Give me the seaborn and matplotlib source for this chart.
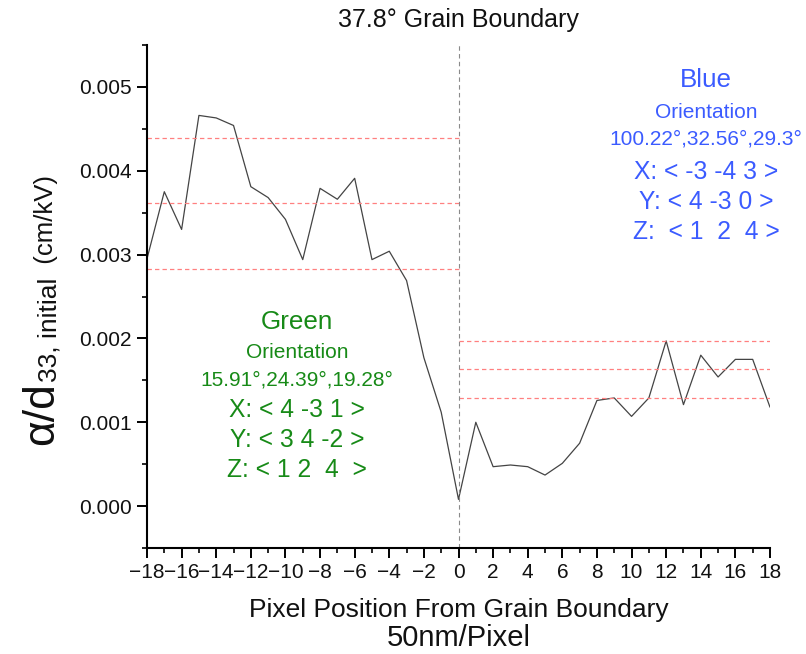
import matplotlib
matplotlib.use("Agg")
import matplotlib.pyplot as plt
from matplotlib.ticker import MultipleLocator, FormatStrFormatter
import pandas as pd
import seaborn as sns

# Piezoresponse profile across the grain boundary (one value per 50 nm pixel)
pixel_position = [-18, -17, -16, -15, -14, -13, -12, -11, -10, -9, -8, -7, -6,
                  -5, -4, -3, -2, -1, 0, 1, 2, 3, 4, 5, 6, 7, 8, 9, 10, 11,
                  12, 13, 14, 15, 16, 17, 18]
response = [0.00295, 0.00375, 0.00330, 0.00466, 0.00463, 0.00454, 0.00381,
            0.00368, 0.00342, 0.00294, 0.00379, 0.00366, 0.00391, 0.00294,
            0.00304, 0.00269, 0.00177, 0.00112, 0.00008, 0.00100, 0.00047,
            0.00049, 0.00047, 0.00037, 0.00051, 0.00075, 0.00126, 0.00129,
            0.00107, 0.00129, 0.00197, 0.00121, 0.00180, 0.00154, 0.00175,
            0.00175, 0.00118]

# Mean and +/- one standard deviation levels in each grain
green_levels = [0.00283, 0.00361, 0.00439]
green_span = [-18, 0]
blue_levels = [0.00129, 0.00163, 0.00197]
blue_span = [0, 18]

x_ticks = [-18, -16, -14, -12, -10, -8, -6, -4, -2, 0, 2, 4, 6, 8, 10, 12, 14, 16, 18]
y_ticks = [0.000, 0.001, 0.002, 0.003, 0.004, 0.005]

green_lines = ["Green", "Orientation", "15.91°,24.39°,19.28°",
               "X: < 4 -3 1 >", "Y: < 3 4 -2 >", "Z: < 1 2  4  >"]
blue_lines = ["Blue", "Orientation", "100.22°,32.56°,29.3°",
              "X: < -3 -4 3 >", "Y: < 4 -3 0 >", "Z:  < 1  2  4 >"]

sns.set_theme(style="ticks")
plt.rcParams["font.family"] = ["Liberation Sans", "DejaVu Sans"]
plt.rcParams["axes.unicode_minus"] = True

W, H = 806, 654
fig = plt.figure(figsize=(W / 100, H / 100), dpi=100)
ax = fig.add_axes([147 / W, 1 - 548 / H, 623 / W, 503 / H])

df = pd.DataFrame({"position": pixel_position, "response": response})
sns.lineplot(data=df, x="position", y="response", ax=ax,
             color="#444444", linewidth=0.9)

dash = (0, (3.5, 2.5))
ax.hlines(green_levels, green_span[0], green_span[1], colors="#ff8080",
          linestyles=dash, linewidth=0.9)
ax.hlines(blue_levels, blue_span[0], blue_span[1], colors="#ff8080",
          linestyles=dash, linewidth=0.9)
ax.axvline(0, color="#8a8a8a", linewidth=0.8, linestyle=(0, (4, 3)))

ax.set_xlim(-18, 18)
ax.set_ylim(-0.0005, 0.0055)
ax.set_xticks(x_ticks)
ax.set_yticks(y_ticks)
ax.xaxis.set_minor_locator(MultipleLocator(1))
ax.yaxis.set_minor_locator(MultipleLocator(0.0005))
ax.yaxis.set_major_formatter(FormatStrFormatter("%.3f"))

sns.despine(ax=ax)
for side in ("left", "bottom"):
    ax.spines[side].set_linewidth(1.5)
    ax.spines[side].set_color("black")
ax.tick_params(which="major", direction="out", length=7, width=1.4,
               labelsize=15, pad=4, colors="black", labelcolor="#111111")
ax.tick_params(which="minor", direction="out", length=3.6, width=1.2,
               colors="black")
ax.grid(False)

ax.set_title("37.8° Grain Boundary", fontsize=18, pad=13, color="#111111")
ax.set_xlabel("Pixel Position From Grain Boundary", fontsize=19, color="#111111")
ax.xaxis.label.set_va("center")
ax.xaxis.set_label_coords(0.5, (548 - 610) / 503)
ax.set_ylabel("")
ax.text(0.5, (548 - 638) / 503, "50nm/Pixel", transform=ax.transAxes,
        ha="center", va="center", fontsize=21, color="#111111")

# Grain annotations
green_color = "#178a17"
green_y = [322, 353, 380, 410, 440, 470]
text_sizes = [18.7, 15, 15, 17.7, 17.7, 17.7]
for line, yp, fs in zip(green_lines, green_y, text_sizes):
    ax.text((297 - 147) / 623, (548 - yp) / 503, line, transform=ax.transAxes,
            ha="center", va="center", fontsize=fs, color=green_color)

blue_color = "#3b5bff"
blue_y = [80, 113, 139, 172, 202, 232]
for line, yp, fs in zip(blue_lines, blue_y, text_sizes):
    ax.text((706 - 147) / 623, (548 - yp) / 503, line, transform=ax.transAxes,
            ha="center", va="center", fontsize=fs, color=blue_color)

# Y axis label built from pieces of different size, stacked bottom to top
fig.canvas.draw()
renderer = fig.canvas.get_renderer()
pieces = [("α/d", 32, 53), ("33, initial", 19, 57), ("  (cm/kV)", 18.5, 53)]
y_disp = H - 445
for txt, fs, xb in pieces:
    t = fig.text(xb / W, y_disp / H, txt, fontsize=fs, rotation=90,
                 rotation_mode="anchor", ha="left", va="baseline",
                 color="#111111")
    bb = t.get_window_extent(renderer)
    y_disp = bb.y1

fig.savefig("out.png", dpi=100)
